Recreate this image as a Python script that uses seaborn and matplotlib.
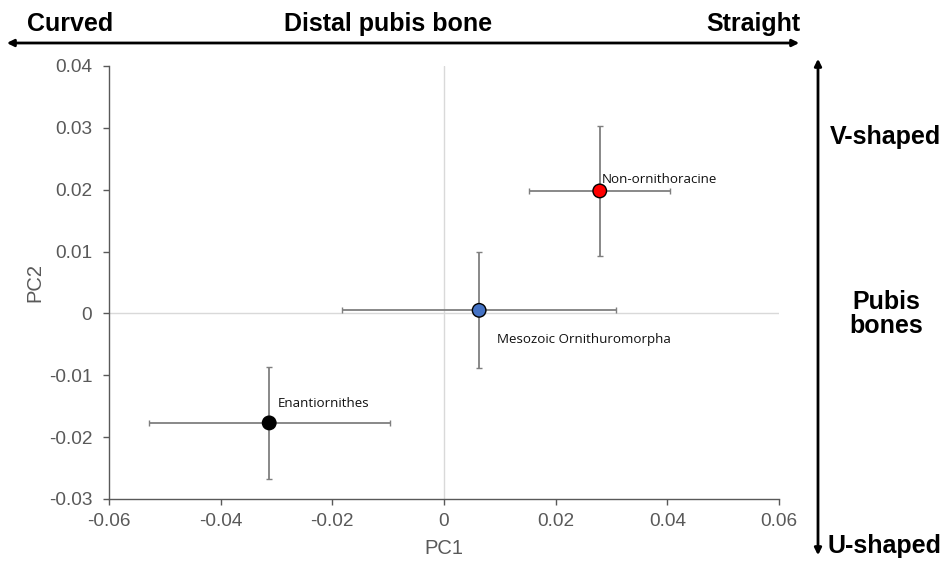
import matplotlib
matplotlib.use("Agg")
import matplotlib.pyplot as plt
import seaborn as sns
import pandas as pd

# Data
groups = ["Non-ornithoracine", "Mesozoic Ornithuromorpha", "Enantiornithes"]
pc1 = [0.0279, 0.0063, -0.0313]
pc2 = [0.0198, 0.0005, -0.0177]
pc1_err = [0.0126, 0.0245, 0.0216]
pc2_err = [0.0105, 0.0094, 0.0091]
colors = ["#ff0000", "#4472c4", "#000000"]
xticks = [-0.06, -0.04, -0.02, 0, 0.02, 0.04, 0.06]
yticks = [-0.03, -0.02, -0.01, 0, 0.01, 0.02, 0.03, 0.04]

df = pd.DataFrame({"group": groups, "PC1": pc1, "PC2": pc2})

sns.set_style("white")
plt.rcParams['font.family'] = ['Liberation Sans', 'DejaVu Sans']

fig = plt.figure(figsize=(9.45, 5.62), dpi=100)
ax = fig.add_axes([0.1153, 0.1121, 0.709, 0.7705])

ax.axhline(0, color="#d9d9d9", lw=1, zorder=0)
ax.axvline(0, color="#d9d9d9", lw=1, zorder=0)

ax.errorbar(pc1, pc2, xerr=pc1_err, yerr=pc2_err, fmt="none",
            ecolor="#7f7f7f", elinewidth=1.3, capsize=2.5, capthick=1, zorder=2)
sns.scatterplot(data=df, x="PC1", y="PC2", hue="group", palette=colors,
                s=95, edgecolor="black", linewidth=1, legend=False, ax=ax, zorder=3)

label_offsets = [(1.5, 8, "left", "center"), (13, -21, "left", "center"), (6, 13.7, "left", "center")]
for g, x, y, (dx, dy, ha, va) in zip(groups, pc1, pc2, label_offsets):
    ax.annotate(g, (x, y), xytext=(dx, dy), textcoords="offset points",
                ha=ha, va=va, fontsize=9.6, family=["Open Sans", "DejaVu Sans"],
                color="#111111", zorder=4)

ax.set_xlim(-0.06, 0.06)
ax.set_ylim(-0.03, 0.04)
ax.set_xticks(xticks)
ax.set_yticks(yticks)
ax.set_xticklabels(["0" if v == 0 else f"{v:.2f}" for v in xticks])
ax.set_yticklabels(["0" if v == 0 else f"{v:.2f}" for v in yticks])
ax.tick_params(axis="both", labelsize=13.7, colors="#595959", length=4, width=1,
               direction="out", left=True, bottom=True)
ax.tick_params(axis="y", pad=8)
ax.tick_params(axis="x", pad=6)
for s in ["top", "right"]:
    ax.spines[s].set_visible(False)
for s in ["left", "bottom"]:
    ax.spines[s].set_color("#595959")
    ax.spines[s].set_linewidth(1)
ax.set_xlabel("PC1", fontsize=14.5, color="#595959")
ax.set_ylabel("PC2", fontsize=14.5, color="#595959")
ax.xaxis.label.set_va("center")
ax.yaxis.label.set_va("center")
ax.xaxis.set_label_coords(0.5, (499 - 548) / 433)
ax.yaxis.set_label_coords((35 - 109) / 670, 0.5)

# Outer annotations
def fx(px):
    return px / 945
def fy(py):
    return 1 - py / 562

fig.add_artist(matplotlib.patches.FancyArrowPatch(
    (fx(4), fy(43)), (fx(802), fy(43)), transform=fig.transFigure,
    arrowstyle="<|-|>", mutation_scale=10, lw=2, color="black"))
fig.add_artist(matplotlib.patches.FancyArrowPatch(
    (fx(818), fy(558)), (fx(818), fy(56)), transform=fig.transFigure,
    arrowstyle="<|-|>", mutation_scale=10, lw=2, color="black"))

bold = dict(fontsize=18, fontweight="bold", color="black")
fig.text(fx(27), fy(24), "Curved", ha="left", va="center", **bold)
fig.text(fx(388), fy(24), "Distal pubis bone", ha="center", va="center", **bold)
fig.text(fx(800), fy(24), "Straight", ha="right", va="center", **bold)
fig.text(fx(885), fy(137), "V-shaped", ha="center", va="center", **bold)
fig.text(fx(886), fy(314), "Pubis\nbones", ha="center", va="center", linespacing=1.0, **bold)
fig.text(fx(885), fy(546), "U-shaped", ha="center", va="center", **bold)

fig.savefig("out.png", dpi=100)
